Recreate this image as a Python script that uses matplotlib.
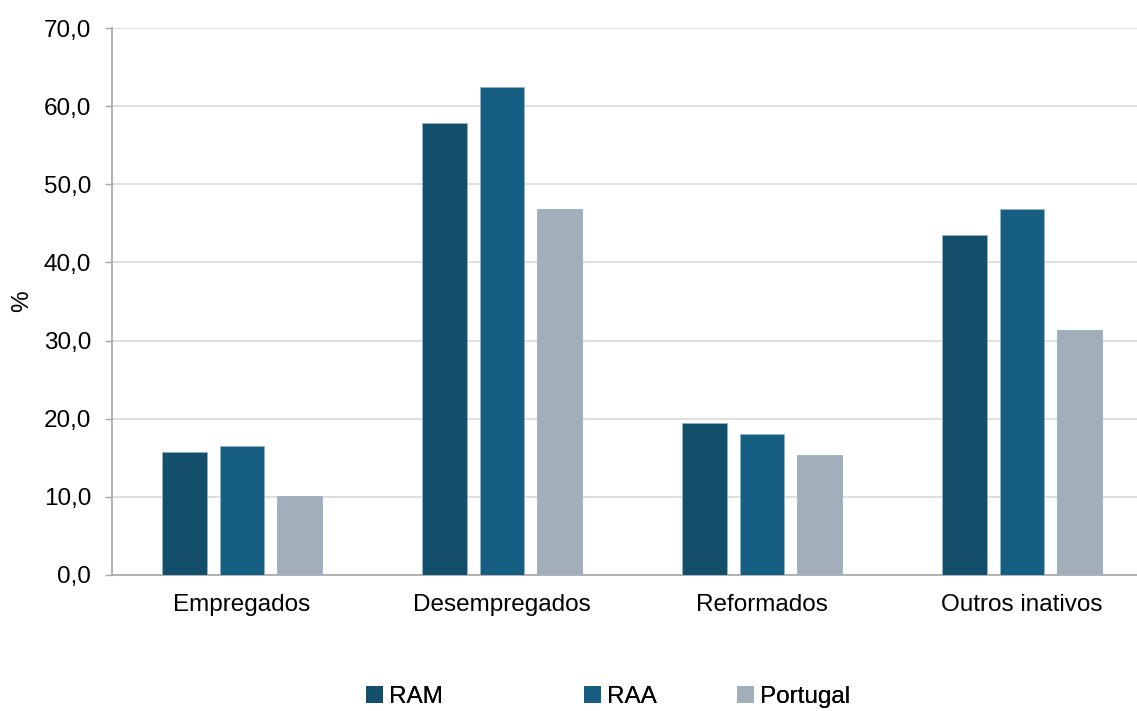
import numpy as np
import matplotlib.pyplot as plt
from matplotlib.patches import Patch

plt.rcParams['font.family'] = ['Liberation Sans', 'DejaVu Sans']

categories = ['Empregados', 'Desempregados', 'Reformados', 'Outros inativos']
series = ['RAM', 'RAA', 'Portugal']
ram = [15.7, 57.8, 19.5, 43.5]
raa = [16.5, 62.4, 18.0, 46.8]
portugal = [10.1, 46.8, 15.4, 31.3]
colors = ['#134E6A', '#175F82', '#A2AFBA']

fig = plt.figure(figsize=(11.37, 7.11), dpi=100)
# axes extends slightly past the right edge like the original export
ax = fig.add_axes([112 / 1137, 1 - 575 / 711, 1040 / 1137, 547 / 711])

x = np.arange(len(categories))
width = 0.173
offset = 0.223
for i, (vals, col) in enumerate(zip([ram, raa, portugal], colors)):
    ax.bar(x + (i - 1) * offset, vals, width, color=col,
           edgecolor='#8FB3C7', linewidth=0.6, zorder=3)

ax.set_xlim(-0.5, 3.5)
ax.set_ylim(0, 70)
ax.set_yticks(np.arange(0, 71, 10))
ax.set_yticklabels([f'{v:.1f}'.replace('.', ',') for v in np.arange(0, 71, 10)])
ax.set_xticks(x)
ax.set_xticklabels(categories)
ax.tick_params(axis='y', labelsize=17.5, colors='#A6A6A6', length=5, width=1,
               labelcolor='#000000', pad=10)
ax.tick_params(axis='x', labelsize=17.5, length=0, pad=14)
ax.grid(axis='y', color='#D9D9D9', linewidth=1.2, zorder=0)
ax.set_axisbelow(True)
for s in ['top', 'right']:
    ax.spines[s].set_visible(False)
ax.spines['left'].set_color('#A6A6A6')
ax.spines['bottom'].set_color('#A6A6A6')
ax.spines['left'].set_linewidth(1.2)
ax.spines['bottom'].set_linewidth(1.2)
ax.set_ylabel('%', fontsize=17.5, labelpad=8)

# legend entries placed individually to mimic the original spacing
leg_x = [366, 584, 737]
for name, col, lx in zip(series, colors, leg_x):
    lg = fig.legend(handles=[Patch(facecolor=col, edgecolor='none')], labels=[name],
                    loc='center left', bbox_to_anchor=(lx / 1137, 1 - 697 / 711),
                    frameon=False, fontsize=17.5, handlelength=0.7, handleheight=0.7,
                    handletextpad=0.25, borderaxespad=0, borderpad=0)
    fig.add_artist(lg)

fig.savefig('out.png', dpi=100)
